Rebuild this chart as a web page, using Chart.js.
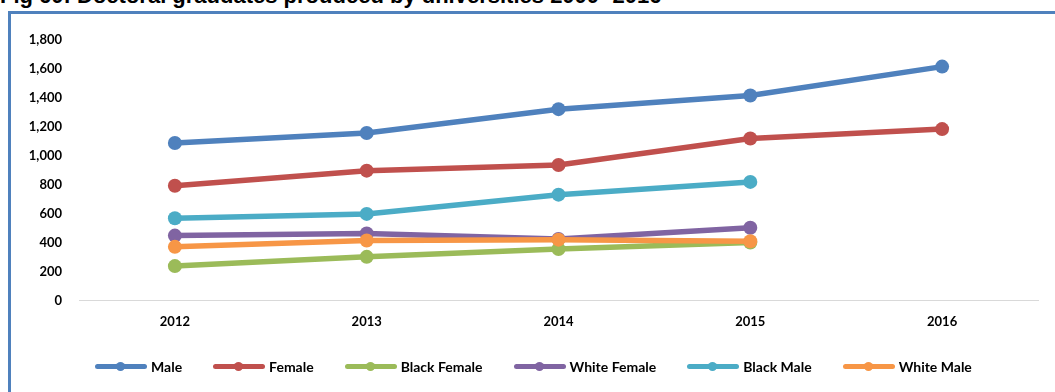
<!DOCTYPE html>
<html>
<head>
<meta charset="utf-8">
<script src="https://cdn.jsdelivr.net/npm/chart.js@4/dist/chart.umd.min.js"></script>
<style>
    body { margin: 0; background: #fff; width: 1055px; height: 392px; overflow: hidden; position: relative; }
    #title { position: absolute; left: 0; top: -15px; font: bold 22px "Liberation Sans", Arial, sans-serif; line-height: 1; white-space: nowrap; color: #000; }
    #frame { position: absolute; left: 8px; top: 11px; width: 1100px; height: 420px; border: 3px solid #4f81bd; }
    #chart { position: absolute; left: 0; top: 0; }
    #legend { position: absolute; left: 95px; top: 357px; display: flex; gap: 31px; font: bold 14px Lato, sans-serif; color: #000; }
    .item { display: flex; align-items: center; gap: 4px; height: 18px; }
    .swatch { position: relative; width: 52px; height: 5px; border-radius: 3px; }
    .swatch i { position: absolute; left: 21px; top: -2px; width: 9px; height: 9px; border-radius: 50%; }
</style>
</head>
<body>
<div id="title">Fig 60: Doctoral graduates produced by universities 2000 -2016</div>
<div id="frame"></div>
<canvas id="chart" width="1055" height="392"></canvas>
<div id="legend"></div>
<script>
// 年度
var years = ['2012', '2013', '2014', '2015', '2016'];

// 系列ごとの値
var male = [1088, 1157, 1322, 1416, 1616];
var female = [793, 897, 936, 1119, 1184];
var black_female = [237, 301, 355, 400, null];
var white_female = [448, 462, 425, 502, null];
var black_male = [568, 598, 731, 819, null];
var white_male = [370, 414, 420, 409, null];

var series_names = ['Male', 'Female', 'Black Female', 'White Female', 'Black Male', 'White Male'];
var series_colors = ['#4f81bd', '#c0504d', '#9bbb59', '#8064a2', '#4bacc6', '#f79646'];
var series_values = [male, female, black_female, white_female, black_male, white_male];

// y軸の目盛り
var y_min = 0;
var y_max = 1800;
var y_step = 200;

Chart.defaults.font.family = 'Lato, sans-serif';
Chart.defaults.font.size = 13;
Chart.defaults.font.weight = 'bold';
Chart.defaults.color = '#000';

var datasets = series_values.map(function (values, i) {
    return {
        label: series_names[i],
        data: values,
        borderColor: series_colors[i],
        backgroundColor: series_colors[i],
        borderWidth: 5.5,
        pointRadius: 7,
        pointHoverRadius: 7,
        pointBorderWidth: 0,
        // Excelと同じく後の系列を上に描く
        order: series_values.length - i
    };
});

var ctx = document.getElementById('chart').getContext('2d');
var chart = new Chart(ctx, {
    type: 'line',
    data: { labels: years, datasets: datasets },
    options: {
        responsive: false,
        animation: false,
        layout: { padding: { left: 10, right: 17, top: 40, bottom: 48 } },
        plugins: { legend: { display: false }, tooltip: { enabled: false } },
        scales: {
            x: {
                offset: true,
                grid: { display: false, drawTicks: false },
                border: { display: true, color: '#d9d9d9', width: 1 },
                ticks: { padding: 14 }
            },
            y: {
                min: y_min,
                max: y_max,
                grid: { display: false, drawTicks: false },
                border: { display: false },
                ticks: {
                    stepSize: y_step,
                    padding: 17,
                    callback: function (v) { return v.toLocaleString('en-US'); }
                },
                afterFit: function (scale) { scale.width = 69; }
            }
        }
    }
});

// 凡例 (線と丸)
var legend = document.getElementById('legend');
series_names.forEach(function (name, i) {
    var item = document.createElement('div');
    item.className = 'item';
    var sw = document.createElement('span');
    sw.className = 'swatch';
    sw.style.background = series_colors[i];
    var dot = document.createElement('i');
    dot.style.background = series_colors[i];
    sw.appendChild(dot);
    var txt = document.createElement('span');
    txt.textContent = name;
    item.appendChild(sw);
    item.appendChild(txt);
    legend.appendChild(item);
});
</script>
</body>
</html>
